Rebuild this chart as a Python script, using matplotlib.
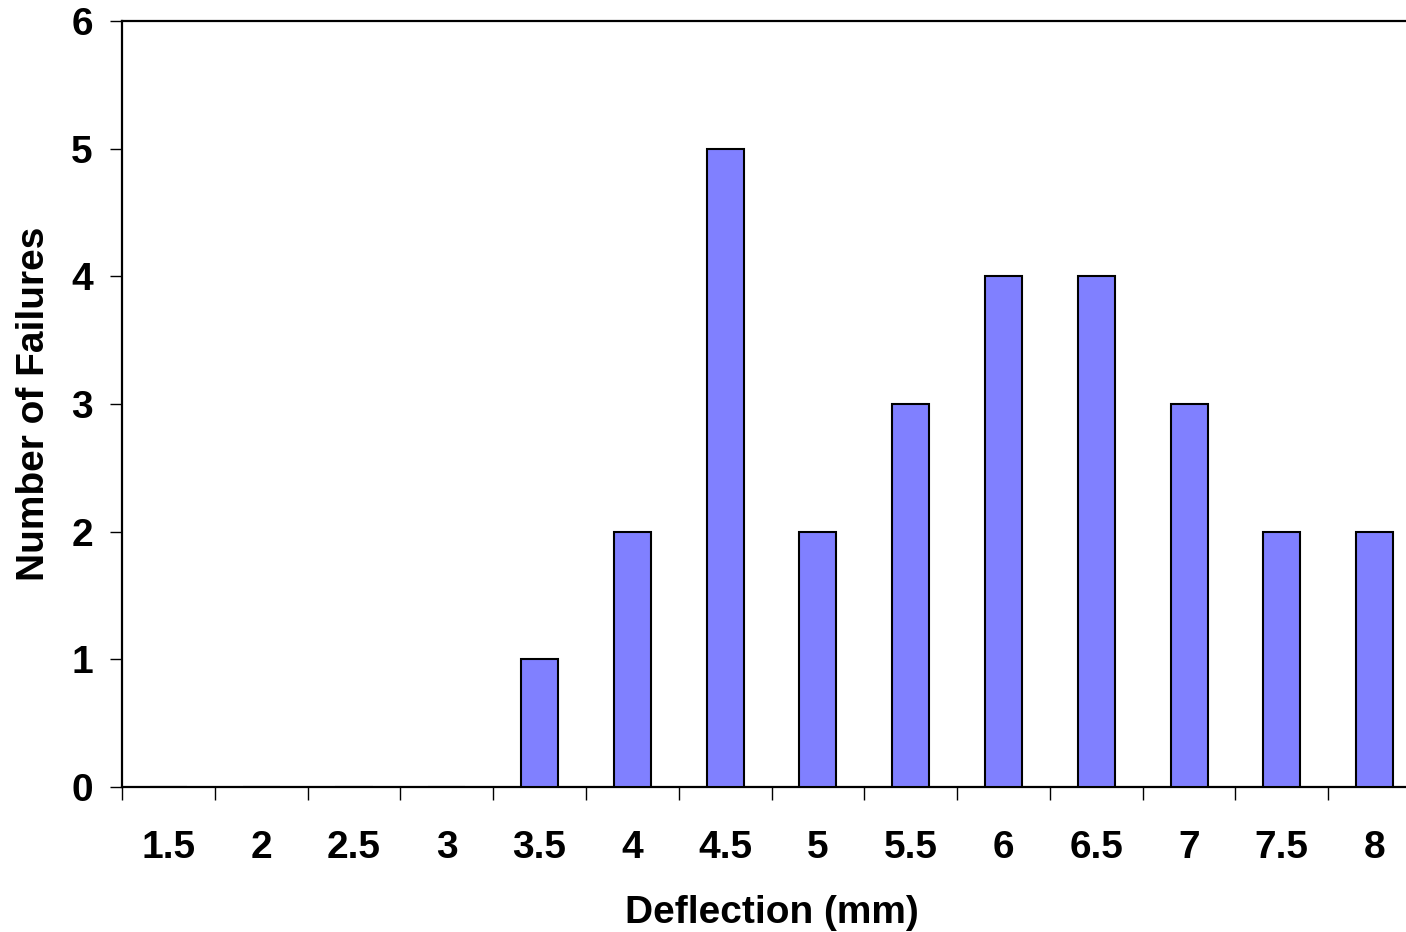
import numpy as np
import matplotlib
import matplotlib.pyplot as plt

matplotlib.rcParams['font.family'] = ['Liberation Sans', 'DejaVu Sans']
matplotlib.rcParams['font.weight'] = 'bold'
matplotlib.rcParams['font.size'] = 28

# deflection categories and failure counts
categories = ['1.5', '2', '2.5', '3', '3.5', '4', '4.5', '5', '5.5', '6', '6.5', '7', '7.5', '8']
failures = [0, 0, 0, 0, 1, 2, 5, 2, 3, 4, 4, 3, 2, 2]
yticks = [0, 1, 2, 3, 4, 5, 6]

fig = plt.figure(figsize=(14.06, 9.32), dpi=100)
# plot area runs a bit past the right edge, like the original
ax = fig.add_axes([0.0868, 0.1556, 0.9239, 0.8219])

x = np.arange(len(categories))
ax.bar(x, failures, width=0.4, color='#8080FF', edgecolor='black', linewidth=1.5, zorder=3)

ax.set_xlim(-0.5, len(categories) - 0.5)
ax.set_ylim(0, 6)
ax.set_yticks(yticks)

# labels at category centres, tick marks between categories
ax.set_xticks(x)
ax.set_xticklabels(categories)
ax.set_xticks(np.arange(len(categories) + 1) - 0.5, minor=True)
ax.tick_params(axis='x', which='major', length=0, pad=31)
ax.tick_params(axis='x', which='minor', length=9, width=1, direction='out')
ax.tick_params(axis='y', length=9, width=1, direction='out', pad=12)

for s in ['left', 'bottom', 'top']:
    ax.spines[s].set_linewidth(1.6)
ax.spines['right'].set_visible(False)

ax.set_xlabel('Deflection (mm)', fontweight='bold', labelpad=21)
ax.set_ylabel('Number of Failures', fontweight='bold', labelpad=14)

plt.savefig('out.png', dpi=100)
